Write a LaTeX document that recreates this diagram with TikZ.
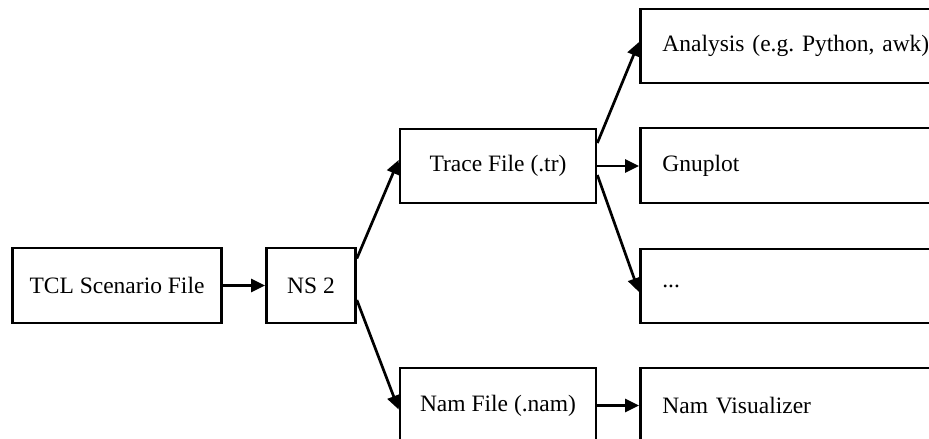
\documentclass[tikz,border=0pt]{standalone}
\usepackage{fontspec}
\setmainfont{Liberation Serif}
\usetikzlibrary{arrows.meta}
\frenchspacing
\begin{document}
\begin{tikzpicture}[x=1pt,y=-1pt,
  box/.style={draw,line width=2.7pt,minimum height=75pt,inner sep=0pt,
    font=\fontsize{23.5}{28}\selectfont},
  rbox/.style={box,anchor=west,text width=300pt,align=left,inner xsep=22pt},
  arr/.style={line width=2.7pt,-{Triangle[length=14pt,width=13pt]}}]
\clip (0,0) rectangle (929,439);
\node[box,minimum width=209pt] (tcl) at (117,285.5) {TCL Scenario File};
\node[box,minimum width=89pt] (ns) at (311,285.5) {NS 2};
\node[box,minimum width=196pt,minimum height=74pt] (trace) at (498,166) {Trace File (.tr)};
\node[box,minimum width=196pt] (nam) at (498,405.5) {Nam File (.nam)};
\node[rbox,minimum height=74pt] (ana) at (639,46) {Analysis (e.g. Python, awk)};
\node[rbox] (gnu) at (639,165.5) {Gnuplot};
\node[rbox,minimum height=74pt] (dots) at (639,286) {...};
\node[rbox] (vis) at (639,405.5) {Nam Visualizer};
\draw[arr] (tcl.east) -- (ns.west);
\draw[arr] ([yshift=27pt]ns.east) -- ([yshift=6pt]trace.west);
\draw[arr] ([yshift=-14.5pt]ns.east) -- ([yshift=-4pt]nam.west);
\draw[arr] ([yshift=23pt]trace.east) -- ([yshift=4pt]ana.west);
\draw[arr] (trace.east) -- (gnu.west |- trace.east);
\draw[arr] ([yshift=-9pt]trace.east) -- ([yshift=-6pt]dots.west);
\draw[arr] (nam.east) -- (vis.west);
\end{tikzpicture}
\end{document}
